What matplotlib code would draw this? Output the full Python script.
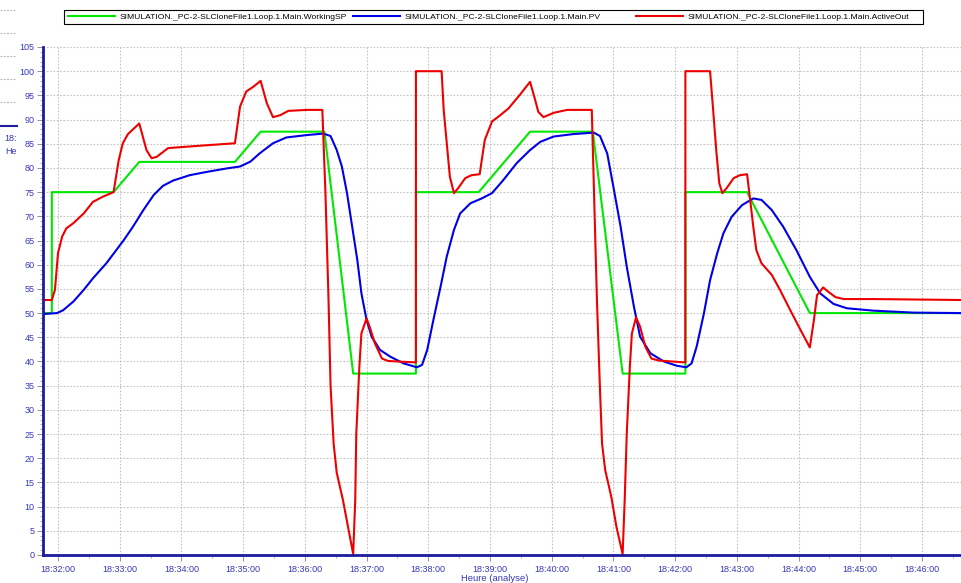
import matplotlib
matplotlib.use('Agg')
import numpy as np
from matplotlib import pyplot as plt
from matplotlib.ticker import MultipleLocator, FuncFormatter
from matplotlib.patches import Rectangle
from matplotlib.lines import Line2D

plt.rcParams['font.family'] = ['Liberation Sans', 'DejaVu Sans']

# time in seconds after 18:32:00
t0 = 18 * 3600 + 32 * 60

sp_t = [-15, -6, -6, 54, 79, 172, 197, 259, 287, 348, 348, 409, 459, 520, 549, 610, 610, 670, 731, 880]
sp_v = [50, 50, 75, 75, 81.25, 81.25, 87.5, 87.5, 37.5, 37.5, 75, 75, 87.5, 87.5, 37.5, 37.5, 75, 75, 50, 50]

pv_t = [-15, -1, 5, 15, 25, 34, 47, 64, 73, 83, 93, 102, 112, 128, 145, 164, 177, 187, 196, 209, 222,
        242, 258, 265, 271, 276, 281, 286, 291, 295, 300, 305, 313, 323, 336, 349, 354, 359, 365, 372,
        378, 385, 391, 401, 412, 422, 433, 446, 459, 469, 482, 501, 521, 527, 534, 540, 547, 553, 560,
        566, 576, 589, 602, 611, 616, 621, 628, 634, 641, 647, 655, 665, 676, 684, 694, 705, 718, 731,
        741, 754, 767, 793, 832, 880]
pv_v = [49.8, 50.0, 50.6, 52.4, 54.8, 57.2, 60.3, 65.1, 67.9, 71.3, 74.4, 76.3, 77.4, 78.5, 79.2, 79.9,
        80.3, 81.3, 83.0, 85.1, 86.3, 86.8, 87.1, 86.6, 83.7, 80.3, 74.8, 67.9, 61.0, 54.1, 48.6, 45.1,
        42.4, 41.0, 39.6, 38.8, 39.3, 42.4, 48.6, 55.5, 61.7, 67.2, 70.6, 72.7, 73.7, 74.8, 77.5, 81.0,
        83.7, 85.4, 86.5, 87.0, 87.3, 86.6, 83.0, 76.1, 67.9, 59.6, 51.3, 45.1, 41.7, 40.0, 39.1, 38.8,
        39.6, 43.1, 49.9, 56.8, 62.4, 66.5, 69.9, 72.3, 73.7, 73.4, 71.3, 67.9, 63.0, 57.5, 54.1, 51.9,
        51.0, 50.5, 50.1, 50.0]

out_t = [-15, -6, -3, 0, 4, 8, 15, 25, 34, 44, 54, 59, 63, 68, 79, 86, 91, 96, 107, 119, 145, 172,
         177, 183, 190, 197, 203, 209, 216, 224, 242, 257, 260, 263, 265, 268, 271, 277, 282, 287,
         289, 290, 293, 295, 300, 303, 308, 315, 321, 348, 348, 373, 375, 378, 381, 385, 389, 396,
         402, 410, 412, 415, 422, 430, 438, 449, 459, 464, 467, 472, 482, 495, 519, 524, 527, 529,
         532, 538, 543, 549, 551, 553, 556, 558, 562, 566, 571, 577, 584, 610, 610, 634, 637, 640,
         643, 646, 650, 657, 663, 670, 673, 676, 679, 684, 694, 702, 712, 722, 731, 735, 738, 744,
         749, 756, 764, 793, 880]
out_v = [52.7, 52.7, 54.8, 62.4, 65.8, 67.5, 68.6, 70.6, 73.0, 74.1, 75.0, 81.6, 85.1, 87.0, 89.2,
         83.7, 82.0, 82.3, 84.1, 84.3, 84.7, 85.1, 92.7, 95.8, 96.8, 98.0, 93.4, 90.5, 90.9, 91.8,
         92.0, 92.0, 75, 53, 35, 23, 17, 11.4, 5.8, 0.2, 11.4, 25, 38.9, 45.8, 48.9, 47.2, 43.8,
         40.6, 40.1, 39.8, 100, 100, 92, 85.1, 78.2, 74.8, 75.8, 77.9, 78.5, 78.7, 81.6, 85.8, 89.6,
         90.9, 92.3, 95.1, 97.8, 94.0, 91.6, 90.5, 91.4, 92.0, 92.0, 52.7, 34, 23, 17.6, 12, 5.8,
         0.2, 11.4, 25, 38.9, 45.8, 49.1, 47.2, 43.1, 40.6, 40.2, 39.8, 100, 100, 92, 83.7, 76.8,
         74.8, 75.8, 77.9, 78.5, 78.7, 73.4, 67.9, 63.0, 60.3, 57.9, 54.8, 50.6, 46.5, 42.9, 48.6,
         53.7, 55.3, 54.4, 53.3, 52.9, 52.9, 52.7]

names = ['SIMULATION._PC-2-SLCloneFile1.Loop.1.Main.WorkingSP',
         'SIMULATION._PC-2-SLCloneFile1.Loop.1.Main.PV',
         'SIMULATION._PC-2-SLCloneFile1.Loop.1.Main.ActiveOut']

tick_col = '#3838b8'
spine_col = '#1c1c9c'
W, H = 961, 583

fig = plt.figure(figsize=(W / 100, H / 100), dpi=100)
ax = fig.add_axes([43 / W, 28 / H, 918 / W, 508 / H])

l1, = ax.plot(sp_t, sp_v, color='#00e800', lw=1.5, label=names[0])
l2, = ax.plot(pv_t, pv_v, color='#0000e6', lw=1.5, label=names[1])
l3, = ax.plot(out_t, out_v, color='#ee0000', lw=1.5, label=names[2])

ax.set_xlim(-14.6, 878)
ax.set_ylim(0, 105)

ax.yaxis.set_major_locator(MultipleLocator(5))
ax.yaxis.set_minor_locator(MultipleLocator(1))
ax.xaxis.set_major_locator(MultipleLocator(60))
ax.xaxis.set_minor_locator(MultipleLocator(30))


def fmt(s, pos):
    s = int(round(s)) + t0
    return '%02d:%02d:%02d' % (s // 3600, (s // 60) % 60, s % 60)


ax.xaxis.set_major_formatter(FuncFormatter(fmt))

ax.grid(True, which='major', color='#c4c4bc', ls=(0, (1.5, 1.5)), lw=0.8)
for side in ['top', 'right']:
    ax.spines[side].set_visible(False)
ax.spines['left'].set_color(spine_col)
ax.spines['bottom'].set_color(spine_col)
ax.spines['left'].set_linewidth(2)
ax.spines['bottom'].set_linewidth(2)

ax.tick_params(axis='both', which='major', labelsize=6.5, labelcolor=tick_col, color='#808080',
               length=4, width=0.6)
ax.tick_params(axis='both', which='minor', color='#909090', length=2, width=0.5)
ax.tick_params(axis='x', pad=3)
ax.tick_params(axis='y', pad=2)

ax.set_xlabel('Heure (analyse)', fontsize=6.8, color=tick_col, labelpad=1)
ax.xaxis.set_label_coords((495 - 43) / 918, -0.038)

# legend: one frame, three equally wide columns
fig.add_artist(Rectangle((64 / W, 1 - 24 / H), (923 - 64) / W, 14 / H, transform=fig.transFigure,
                         facecolor='white', edgecolor='black', lw=0.8))
for handle, x0 in zip([l1, l2, l3], [68, 353, 636]):
    lg = fig.legend(handles=[handle], loc='center left', bbox_to_anchor=(x0 / W, 1 - 17 / H),
                    fontsize=6.1, frameon=False, borderpad=0, borderaxespad=0,
                    handlelength=5.5, handletextpad=0.55)

# fragments of the neighbouring panel visible at the left edge
for yy in [10, 33, 56, 79, 102]:
    fig.add_artist(Line2D([0, 15 / W], [1 - yy / H, 1 - yy / H], transform=fig.transFigure,
                          color='#b0b0b0', ls=(0, (1.5, 1.5)), lw=0.8))
fig.add_artist(Line2D([0, 17 / W], [1 - 126 / H, 1 - 126 / H], transform=fig.transFigure,
                      color=spine_col, lw=1.5))
fig.text(17 / W, 1 - 141 / H, '18:', fontsize=6.5, color=tick_col, ha='right')
fig.text(17 / W, 1 - 154 / H, 'He', fontsize=6.5, color=tick_col, ha='right')

fig.savefig('out.png', dpi=100)
